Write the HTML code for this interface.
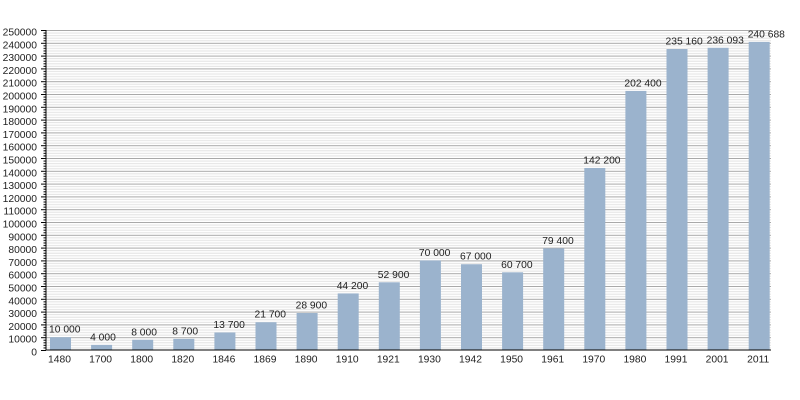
<!DOCTYPE html>
<html><head><meta charset="utf-8"><style>
html,body{margin:0;padding:0;background:#fff;}
svg{display:block;}
text{font-family:"Liberation Sans",Arial,sans-serif;font-size:10.3px;fill:#222;}
</style></head><body>
<svg width="800" height="400" viewBox="0 0 800 400" xmlns="http://www.w3.org/2000/svg">
<defs>
<pattern id="grid" patternUnits="userSpaceOnUse" x="46" y="30" width="725" height="12.8">
<rect x="0" y="0" width="725" height="1" fill="#a8a8a8"/>
<rect x="0" y="2.56" width="725" height="1" fill="#e2e2e2"/>
<rect x="0" y="5.12" width="725" height="1" fill="#e2e2e2"/>
<rect x="0" y="7.68" width="725" height="1" fill="#e2e2e2"/>
<rect x="0" y="10.24" width="725" height="1" fill="#e2e2e2"/>
</pattern>
<pattern id="ticks" patternUnits="userSpaceOnUse" x="41" y="30" width="5" height="12.8">
<rect x="0" y="0" width="5" height="1" fill="#000"/>
<rect x="2.5" y="2.56" width="2.5" height="1" fill="#000"/>
<rect x="2.5" y="5.12" width="2.5" height="1" fill="#000"/>
<rect x="2.5" y="7.68" width="2.5" height="1" fill="#000"/>
<rect x="2.5" y="10.24" width="2.5" height="1" fill="#000"/>
</pattern>
</defs>
<rect x="46" y="30" width="725" height="320" fill="url(#grid)"/>
<rect x="41" y="30" width="5" height="321" fill="url(#ticks)"/>
<g fill="#9bb3cd">
<rect x="50" y="337.2" width="21" height="12.8"/>
<rect x="91.1" y="344.88" width="21" height="5.12"/>
<rect x="132.2" y="339.76" width="21" height="10.24"/>
<rect x="173.3" y="338.86" width="21" height="11.14"/>
<rect x="214.4" y="332.46" width="21" height="17.54"/>
<rect x="255.5" y="322.22" width="21" height="27.78"/>
<rect x="296.6" y="313.01" width="21" height="36.99"/>
<rect x="337.7" y="293.42" width="21" height="56.58"/>
<rect x="378.8" y="282.29" width="21" height="67.71"/>
<rect x="419.9" y="260.4" width="21" height="89.6"/>
<rect x="461" y="264.24" width="21" height="85.76"/>
<rect x="502.1" y="272.3" width="21" height="77.7"/>
<rect x="543.2" y="248.37" width="21" height="101.63"/>
<rect x="584.3" y="167.98" width="21" height="182.02"/>
<rect x="625.4" y="90.93" width="21" height="259.07"/>
<rect x="666.5" y="49" width="21" height="301"/>
<rect x="707.6" y="47.8" width="21" height="302.2"/>
<rect x="748.7" y="41.92" width="21" height="308.08"/>
</g>
<rect x="45.5" y="30" width="1" height="320.5" fill="#000"/>
<rect x="45.5" y="349.5" width="725.5" height="1" fill="#000"/>
<g text-anchor="end">
<text x="37" y="35.5">250000</text>
<text x="37" y="48.3">240000</text>
<text x="37" y="61.1">230000</text>
<text x="37" y="73.9">220000</text>
<text x="37" y="86.7">210000</text>
<text x="37" y="99.5">200000</text>
<text x="37" y="112.3">190000</text>
<text x="37" y="125.1">180000</text>
<text x="37" y="137.9">170000</text>
<text x="37" y="150.7">160000</text>
<text x="37" y="163.5">150000</text>
<text x="37" y="176.3">140000</text>
<text x="37" y="189.1">130000</text>
<text x="37" y="201.9">120000</text>
<text x="37" y="214.7">110000</text>
<text x="37" y="227.5">100000</text>
<text x="37" y="240.3">90000</text>
<text x="37" y="253.1">80000</text>
<text x="37" y="265.9">70000</text>
<text x="37" y="278.7">60000</text>
<text x="37" y="291.5">50000</text>
<text x="37" y="304.3">40000</text>
<text x="37" y="317.1">30000</text>
<text x="37" y="329.9">20000</text>
<text x="37" y="342.7">10000</text>
<text x="37" y="355.5">0</text>
</g>
<g>
<text x="49" y="332.7">10 000</text>
<text x="90.1" y="340.4">4 000</text>
<text x="131.2" y="335.3">8 000</text>
<text x="172.3" y="334.4">8 700</text>
<text x="213.4" y="328">13 700</text>
<text x="254.5" y="317.7">21 700</text>
<text x="295.6" y="308.5">28 900</text>
<text x="336.7" y="288.9">44 200</text>
<text x="377.8" y="277.8">52 900</text>
<text x="418.9" y="255.9">70 000</text>
<text x="460" y="259.7">67 000</text>
<text x="501.1" y="267.8">60 700</text>
<text x="542.2" y="243.9">79 400</text>
<text x="583.3" y="163.5">142 200</text>
<text x="624.4" y="86.4">202 400</text>
<text x="665.5" y="44.5">235 160</text>
<text x="706.6" y="43.3">236 093</text>
<text x="747.7" y="37.4">240 688</text>
</g>
<g text-anchor="middle">
<text x="59.5" y="362.5">1480</text>
<text x="100.6" y="362.5">1700</text>
<text x="141.7" y="362.5">1800</text>
<text x="182.8" y="362.5">1820</text>
<text x="223.9" y="362.5">1846</text>
<text x="265" y="362.5">1869</text>
<text x="306.1" y="362.5">1890</text>
<text x="347.2" y="362.5">1910</text>
<text x="388.3" y="362.5">1921</text>
<text x="429.4" y="362.5">1930</text>
<text x="470.5" y="362.5">1942</text>
<text x="511.6" y="362.5">1950</text>
<text x="552.7" y="362.5">1961</text>
<text x="593.8" y="362.5">1970</text>
<text x="634.9" y="362.5">1980</text>
<text x="676" y="362.5">1991</text>
<text x="717.1" y="362.5">2001</text>
<text x="758.2" y="362.5">2011</text>
</g>
</svg>
</body></html>
